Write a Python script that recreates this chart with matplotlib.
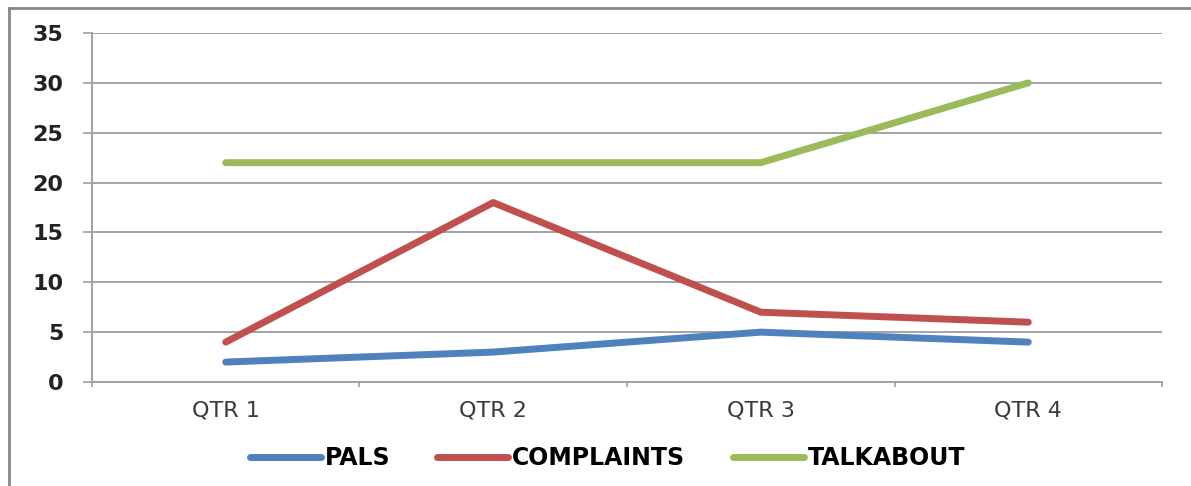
import numpy as np
import matplotlib
matplotlib.use('Agg')
import matplotlib.pyplot as plt

# 数据
quarters = ['QTR 1', 'QTR 2', 'QTR 3', 'QTR 4']
pals = [2, 3, 5, 4]
complaints = [4, 18, 7, 6]
talkabout = [22, 22, 22, 30]

plt.rcParams['font.family'] = ['DejaVu Sans']

fig = plt.figure(figsize=(11.91, 4.86), dpi=100)
ax = fig.add_axes([0.0772, 0.214, 0.8985, 0.718])

x = np.arange(len(quarters)) + 0.5
ax.plot(x, pals, color='#4F81BD', lw=5, solid_capstyle='round', label='PALS')
ax.plot(x, complaints, color='#C0504D', lw=5, solid_capstyle='round', label='COMPLAINTS')
ax.plot(x, talkabout, color='#9BBB59', lw=5, solid_capstyle='round', label='TALKABOUT')

# 坐标轴
ax.set_xlim(0, 4)
ax.set_ylim(0, 35)
ax.set_yticks(np.arange(0, 36, 5))
ax.set_yticklabels([str(v) for v in range(0, 36, 5)], fontsize=16, fontweight='bold', color='#222222')
ax.set_xticks(np.arange(0, 5))
ax.set_xticklabels([])
ax.set_xticks(x, minor=True)
ax.set_xticklabels(quarters, minor=True, fontsize=16, color='#3a3a3a')
ax.tick_params(axis='x', which='minor', length=0, pad=13)
ax.tick_params(axis='x', which='major', length=3.6, color='#a0a0a0', width=1.2)
ax.tick_params(axis='y', length=6.5, color='#a0a0a0', width=1.2, pad=14)

ax.grid(axis='y', color='#8a8a8a', lw=1.1)
ax.set_axisbelow(True)
for s in ['top', 'right']:
    ax.spines[s].set_visible(False)
ax.spines['left'].set_color('#a0a0a0')
ax.spines['left'].set_linewidth(1.4)
ax.spines['bottom'].set_color('#a0a0a0')
ax.spines['bottom'].set_linewidth(1.4)

# 图例
leg = fig.legend(loc='center', bbox_to_anchor=(0.510, 0.057), ncol=3, frameon=False,
                 prop={'size': 17, 'weight': 'bold'}, handlelength=3.0, handletextpad=0.17,
                 columnspacing=2.0)

# 外框
fig.add_artist(plt.Line2D([0.0076, 0.0076], [0, 0.984], color='#888888', lw=2, transform=fig.transFigure))
fig.add_artist(plt.Line2D([0.0076, 1], [0.984, 0.984], color='#888888', lw=2, transform=fig.transFigure))

plt.savefig('out.png', dpi=100)
